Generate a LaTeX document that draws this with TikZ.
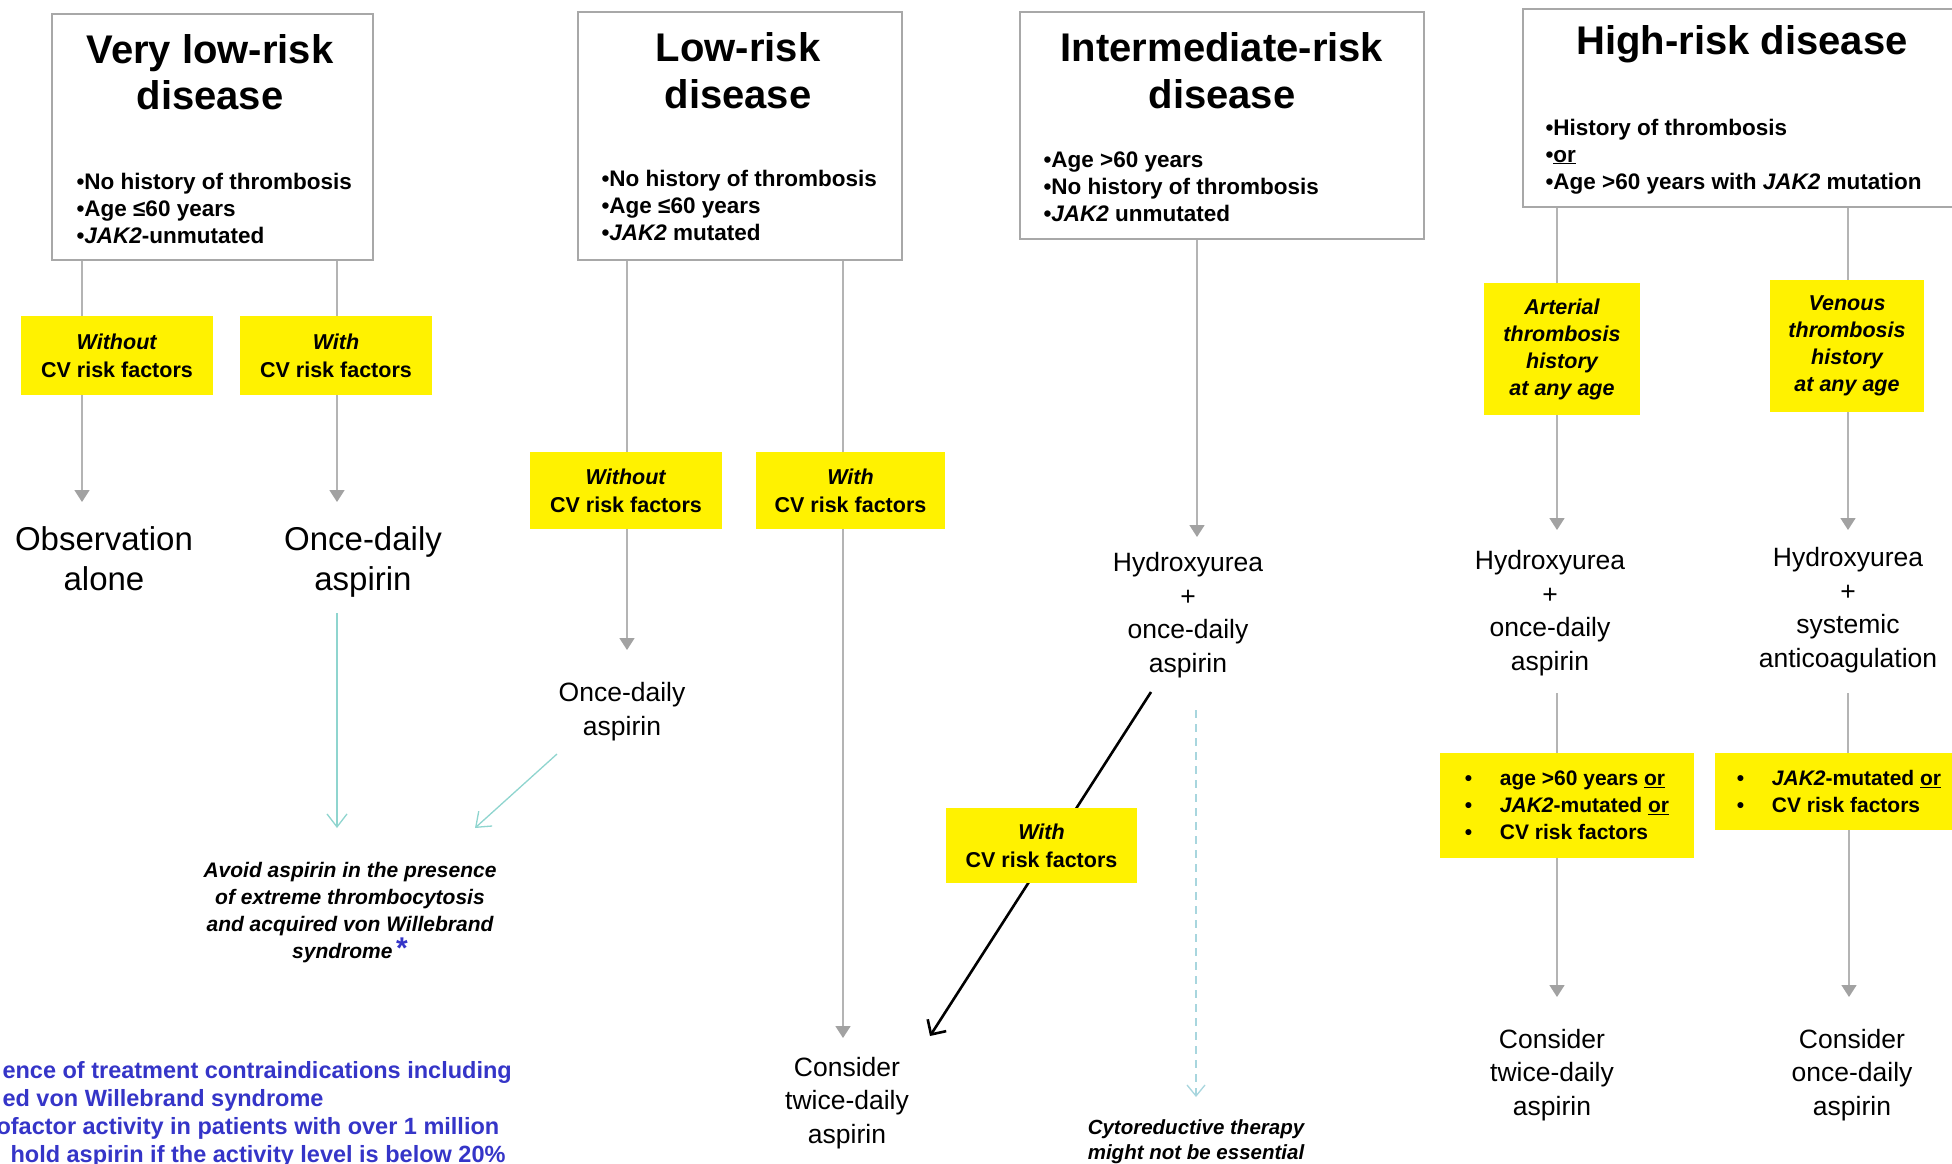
\documentclass[tikz,border=0pt]{standalone}
\usepackage{fontspec}
\setmainfont{Liberation Sans}
\usetikzlibrary{arrows.meta}
\definecolor{boxgray}{HTML}{A8A8A8}
\definecolor{linegray}{HTML}{B4B4B4}
\definecolor{tipgray}{HTML}{A2A2A2}
\definecolor{tealA}{HTML}{8FD5CF}
\definecolor{tealB}{HTML}{A8D6DE}
\definecolor{noteblue}{HTML}{3535C8}
\newcommand\ybul{\makebox[35pt][l]{•}}

\begin{document}
\begin{tikzpicture}[x=1pt,y=-1pt,
	riskbox/.style={draw=boxgray,line width=1.5pt,fill=white,inner sep=0pt},
	title/.style={font=\fontsize{40}{47}\selectfont\bfseries,align=center,anchor=base},
	crit/.style={font=\fontsize{22.5}{27}\selectfont\bfseries,align=left,anchor=base west},
	cvbox/.style={fill=yellow,inner sep=0pt,align=center,font=\fontsize{21.5}{28}\selectfont\bfseries},
	histbox/.style={cvbox,font=\fontsize{21.5}{27}\selectfont\bfseries\itshape},
	listbox/.style={cvbox,align=left,font=\fontsize{21}{27}\selectfont\bfseries},
	result/.style={font=\fontsize{33}{40}\selectfont,align=center,anchor=base},
	treat/.style={font=\fontsize{26.5}{33.5}\selectfont,align=center,anchor=base},
	note/.style={font=\fontsize{21}{27}\selectfont\bfseries\itshape,align=center,anchor=base},
	gline/.style={draw=linegray,line width=1.6pt},
	garrow/.style={gline,-{Triangle[width=15pt,length=12pt,color=tipgray]}},
	tarrow/.style={draw=tealA,line width=1.3pt,-{Straight Barb[length=13pt,width=20pt]}},
	dtarrow/.style={draw=tealB,line width=1.3pt,dash pattern=on 8pt off 6pt,-{Straight Barb[length=11pt,width=18pt]}},
	barrow/.style={draw=black,line width=2.6pt,-{Straight Barb[length=11pt,width=22pt]}}]
	\useasboundingbox (0,0) rectangle (1952,1164);
	\clip (0,0) rectangle (1952,1164);
	\fill[white] (0,0) rectangle (1952,1164);

	% risk groups (base = last line)
	\node[riskbox,minimum width=321pt,minimum height=246pt] (vl) at (212.5,137) {};
	\node[riskbox,minimum width=324pt,minimum height=248pt] (lo) at (740,136) {};
	\node[riskbox,minimum width=404pt,minimum height=227pt] (im) at (1222,125.5) {};
	\node[riskbox,minimum width=439pt,minimum height=198pt] (hi) at (1742.5,108) {};

	\node[title] (vlT) at (210,110) {Very low-risk\\disease};
	\node[title] (loT) at (738,108) {Low-risk\\disease};
	\node[title] (imT) at (1222,108) {Intermediate-risk\\disease};
	\node[title] (hiT) at (1742,55) {High-risk disease};

	\node[crit] (vlB) at (73,243) {•No history of thrombosis\\•Age ≤60 years\\•\textit{JAK2}-unmutated};
	\node[crit] (loB) at (598,240) {•No history of thrombosis\\•Age ≤60 years\\•\textit{JAK2} mutated};
	\node[crit] (imB) at (1040,221) {•Age >60 years\\•No history of thrombosis\\•\textit{JAK2} unmutated};
	\node[crit] (hiB) at (1542,189) {•History of thrombosis\\•\underline{or}\\•Age >60 years with \textit{JAK2} mutation};

	% yellow conditions
	\node[cvbox,minimum width=192pt,minimum height=79pt] (vlNo) at (117,355.5) {\textit{Without}\\CV risk factors};
	\node[cvbox,minimum width=192pt,minimum height=79pt] (vlWi) at (336,355.5) {\textit{With}\\CV risk factors};
	\node[cvbox,minimum width=192pt,minimum height=77pt] (loNo) at (626,490.5) {\textit{Without}\\CV risk factors};
	\node[cvbox,minimum width=189pt,minimum height=77pt] (loWi) at (850.5,490.5) {\textit{With}\\CV risk factors};
	\node[histbox,minimum width=156pt,minimum height=132pt] (hiAr) at (1562,349) {Arterial\\thrombosis\\history\\at any age};
	\node[histbox,minimum width=154pt,minimum height=132pt] (hiVe) at (1847,346) {Venous\\thrombosis\\history\\at any age};

	% treatments
	\node[result] (obs) at (104,590) {Observation\\alone};
	\node[result] (onceA) at (363,590) {Once-daily\\aspirin};
	\node[treat] (onceB) at (622,735) {Once-daily\\aspirin};
	\node[treat] (conA) at (847,1143) {Consider\\twice-daily\\aspirin};
	\node[treat] (hyA) at (1188,672) {Hydroxyurea\\+\\once-daily\\aspirin};
	\node[treat] (hyB) at (1550,670) {Hydroxyurea\\+\\once-daily\\aspirin};
	\node[treat] (hyC) at (1848,667) {Hydroxyurea\\+\\systemic\\anticoagulation};
	\node[treat] (conB) at (1552,1115) {Consider\\twice-daily\\aspirin};
	\node[treat] (conC) at (1852,1115) {Consider\\once-daily\\aspirin};

	\node[listbox,minimum width=254pt,minimum height=105pt] (hiAg) at (1567,805.5)
		{\ybul age >60 years \underline{or}\\\ybul\textit{JAK2}-mutated \underline{or}\\\ybul CV risk factors};
	\node[listbox,minimum width=249pt,minimum height=77pt] (hiJa) at (1839,791.5)
		{\ybul\textit{JAK2}-mutated \underline{or}\\\ybul CV risk factors};

	\node[note] (avoid) at (350,958) {Avoid aspirin in the presence\\of extreme thrombocytosis\\and acquired von Willebrand\\syndrome\,\textcolor{noteblue}{\fontsize{30}{30}\selectfont\upshape *}};
	\node[note,font=\fontsize{20.5}{25}\selectfont\bfseries\itshape] (cyto) at (1196,1159) {Cytoreductive therapy\\might not be essential};
	\node[anchor=base west,align=left,text=noteblue,font=\fontsize{23.5}{28}\selectfont\bfseries] (foot) at (-1,1162)
		{ence of treatment contraindications including\\ed von Willebrand syndrome\\\hspace*{-6pt}ofactor activity in patients with over 1 million\\\hspace*{8pt}hold aspirin if the activity level is below 20\%};

	% arrow ends
	\coordinate (obsTip) at (82,502);
	\coordinate (onceATip) at (337,502);
	\coordinate (onceBTip) at (627,650);
	\coordinate (conATip) at (843,1038);
	\coordinate (hyATip) at (1197,537);
	\coordinate (hyBTip) at (1557,530);
	\coordinate (hyCTip) at (1848,530);
	\coordinate (hyBOut) at (1557,693);
	\coordinate (hyCOut) at (1848,693);
	\coordinate (conBTip) at (1557,997);
	\coordinate (conCTip) at (1849,997);
	\coordinate (onceAOut) at (337,613);
	\coordinate (avoidTipA) at (337,828);
	\coordinate (onceBOut) at (557,754);
	\coordinate (avoidTipB) at (475,828);
	\coordinate (hyAOut) at (1196,710);
	\coordinate (cytoTip) at (1196,1097);
	\coordinate (imS) at (1151,692);
	\coordinate (imE) at (930,1036);

	\draw[gline] (vl.south -| obsTip) -- (vlNo.north -| obsTip);
	\draw[garrow] (vlNo.south -| obsTip) -- (obsTip);
	\draw[gline] (vl.south -| onceATip) -- (vlWi.north -| onceATip);
	\draw[garrow] (vlWi.south -| onceATip) -- (onceATip);
	\draw[gline] (lo.south -| onceBTip) -- (loNo.north -| onceBTip);
	\draw[garrow] (loNo.south -| onceBTip) -- (onceBTip);
	\draw[gline] (lo.south -| conATip) -- (loWi.north -| conATip);
	\draw[garrow] (loWi.south -| conATip) -- (conATip);
	\draw[garrow] (im.south -| hyATip) -- (hyATip);
	\draw[gline] (hi.south -| hyBTip) -- (hiAr.north -| hyBTip);
	\draw[garrow] (hiAr.south -| hyBTip) -- (hyBTip);
	\draw[gline] (hi.south -| hyCTip) -- (hiVe.north -| hyCTip);
	\draw[garrow] (hiVe.south -| hyCTip) -- (hyCTip);
	\draw[gline] (hyBOut) -- (hiAg.north -| hyBOut);
	\draw[garrow] (hiAg.south -| conBTip) -- (conBTip);
	\draw[gline] (hyCOut) -- (hiJa.north -| hyCOut);
	\draw[garrow] (hiJa.south -| conCTip) -- (conCTip);

	\draw[tarrow] (onceAOut) -- (avoidTipA);
	\draw[tarrow] (onceBOut) -- (avoidTipB);
	\draw[dtarrow] (hyAOut) -- (cytoTip);
	\draw[barrow] (imS) -- (imE);
	\node[cvbox,minimum width=191pt,minimum height=75pt] (imWi) at (1041.5,845.5) {\textit{With}\\CV risk factors};
\end{tikzpicture}
\end{document}
